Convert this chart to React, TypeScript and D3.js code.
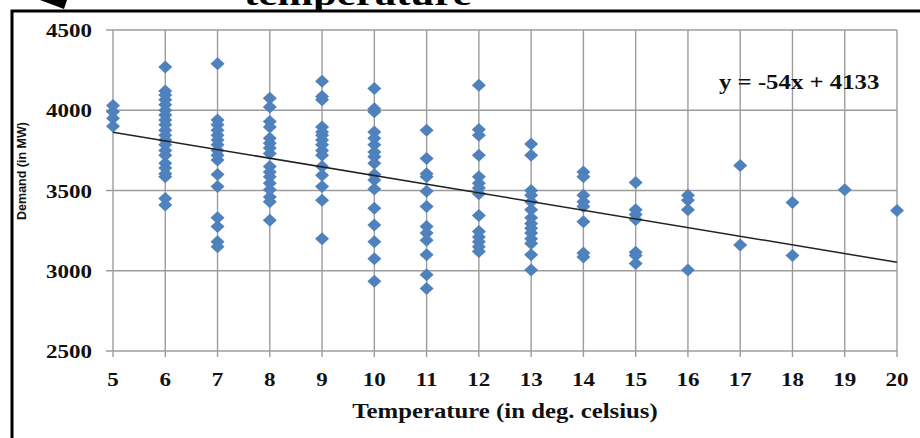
import React, { useEffect, useRef } from 'react';
import * as d3 from 'd3';

// temperature categories (deg C) and demand readings (MW) at each one
const temps = [5, 6, 7, 8, 9, 10, 11, 12, 13, 14, 15, 16, 17, 18, 19, 20];
const demandAt5 = [4030, 3990, 3950, 3900];
const demandAt6 = [4270, 4120, 4095, 4065, 4035, 4000, 3970, 3940, 3910, 3875, 3845, 3815, 3785, 3750, 3720, 3670, 3640, 3605, 3585, 3450, 3410];
const demandAt7 = [4290, 3940, 3910, 3875, 3845, 3815, 3785, 3750, 3720, 3690, 3600, 3525, 3330, 3275, 3180, 3150];
const demandAt8 = [4075, 4020, 3930, 3895, 3825, 3795, 3765, 3730, 3650, 3615, 3585, 3545, 3505, 3460, 3430, 3315];
const demandAt9 = [4180, 4085, 4065, 3895, 3865, 3845, 3815, 3785, 3750, 3720, 3650, 3595, 3525, 3440, 3200];
const demandAt10 = [4135, 4010, 3990, 3865, 3825, 3785, 3740, 3710, 3670, 3600, 3565, 3510, 3390, 3285, 3180, 3075, 2935];
const demandAt11 = [3875, 3700, 3605, 3585, 3495, 3400, 3275, 3235, 3190, 3100, 2975, 2890];
const demandAt12 = [4155, 3880, 3845, 3720, 3585, 3545, 3515, 3480, 3345, 3245, 3210, 3180, 3150, 3120];
const demandAt13 = [3790, 3720, 3500, 3470, 3430, 3380, 3330, 3295, 3265, 3235, 3200, 3170, 3100, 3005];
const demandAt14 = [3615, 3585, 3470, 3430, 3400, 3305, 3110, 3085];
const demandAt15 = [3550, 3380, 3350, 3320, 3115, 3095, 3045];
const demandAt16 = [3470, 3440, 3380, 3005];
const demandAt17 = [3655, 3160];
const demandAt18 = [3425, 3095];
const demandAt19 = [3505];
const demandAt20 = [3375];
const demandByTemp = [
  demandAt5, demandAt6, demandAt7, demandAt8, demandAt9, demandAt10, demandAt11, demandAt12,
  demandAt13, demandAt14, demandAt15, demandAt16, demandAt17, demandAt18, demandAt19, demandAt20,
];
const yTicks = [2500, 3000, 3500, 4000, 4500];

// linear trend shown on the chart
const trendSlope = -54;
const trendIntercept = 4133;
const trendRange = [5, 20];
const equationLabel = 'y = -54x + 4133';

const xTitle = 'Temperature (in deg. celsius)';
const yTitle = 'Demand (in MW)';
const cutTitle = 'temperature';

const App = () => {
  const svgRef = useRef(null);

  useEffect(() => {
    const svg = d3.select(svgRef.current);
    svg.selectAll('*').remove();

    const left = 113, right = 897, top = 30, bottom = 351;
    const serif = '"Liberation Serif", "Times New Roman", serif';
    const stretch = 1.18;

    const x = d3.scaleLinear().domain([5, 20]).range([left, right]);
    const y = d3.scaleLinear().domain([2500, 4500]).range([bottom, top]);

    const points = temps.flatMap((t, i) => demandByTemp[i].map(v => ({ t, v })));

    // cut-off title and arrow above the frame
    svg.append('text')
      .attr('transform', `translate(244,5) scale(1.26,1)`)
      .style('font-family', serif)
      .style('font-weight', 'bold')
      .style('font-size', '34px')
      .text(cutTitle);

    svg.append('path')
      .attr('d', 'M40,0 L67,0 L64,9 Z')
      .attr('fill', '#000');

    // frame
    svg.append('path')
      .attr('d', 'M12,438 L12,11 L920,11')
      .attr('fill', 'none')
      .attr('stroke', '#000')
      .attr('stroke-width', 3);

    // grid
    const grid = svg.append('g').attr('stroke', '#9c9c9c').attr('stroke-width', 1.4);
    grid.selectAll('line.h')
      .data(yTicks)
      .join('line')
      .attr('class', 'h')
      .attr('x1', left - 7)
      .attr('x2', right)
      .attr('y1', d => y(d))
      .attr('y2', d => y(d));
    grid.selectAll('line.v')
      .data(temps)
      .join('line')
      .attr('class', 'v')
      .attr('x1', d => x(d))
      .attr('x2', d => x(d))
      .attr('y1', top)
      .attr('y2', bottom + 6);

    // tick labels
    svg.append('g')
      .selectAll('text')
      .data(yTicks)
      .join('text')
      .attr('transform', d => `translate(92,${y(d) + 7}) scale(${stretch},1)`)
      .attr('text-anchor', 'end')
      .style('font-family', serif)
      .style('font-weight', 'bold')
      .style('font-size', '19.5px')
      .style('fill', '#111')
      .text(d => d);

    svg.append('g')
      .selectAll('text')
      .data(temps)
      .join('text')
      .attr('transform', d => `translate(${x(d)},386) scale(${stretch},1)`)
      .attr('text-anchor', 'middle')
      .style('font-family', serif)
      .style('font-weight', 'bold')
      .style('font-size', '19.5px')
      .style('fill', '#111')
      .text(d => d);

    // axis titles
    svg.append('text')
      .attr('transform', `translate(${(left + right) / 2},418) scale(1.18,1)`)
      .attr('text-anchor', 'middle')
      .style('font-family', serif)
      .style('font-weight', 'bold')
      .style('font-size', '21px')
      .style('fill', '#111')
      .text(xTitle);

    svg.append('text')
      .attr('transform', 'translate(26,171) rotate(-90)')
      .attr('text-anchor', 'middle')
      .style('font-family', '"Liberation Sans", Arial, sans-serif')
      .style('font-weight', 'bold')
      .style('font-size', '12.5px')
      .style('fill', '#111')
      .text(yTitle);

    // points
    const diamond = 'M0,-6.5L7,0L0,6.5L-7,0Z';
    svg.append('g')
      .selectAll('path')
      .data(points)
      .join('path')
      .attr('d', diamond)
      .attr('transform', d => `translate(${x(d.t)},${y(d.v)})`)
      .attr('fill', '#4F81BD');

    // trend line
    const line = d3.line()
      .x(d => x(d))
      .y(d => y(trendSlope * d + trendIntercept));
    svg.append('path')
      .datum(trendRange)
      .attr('d', line)
      .attr('fill', 'none')
      .attr('stroke', '#222')
      .attr('stroke-width', 1.5);

    svg.append('text')
      .attr('transform', `translate(719,89) scale(1.18,1)`)
      .style('font-family', serif)
      .style('font-weight', 'bold')
      .style('font-size', '21px')
      .style('fill', '#111')
      .text(equationLabel);
  }, []);

  return (
    <svg
      ref={svgRef}
      width={920}
      height={438}
      style={{ position: 'absolute', left: 0, top: 0, background: '#fff' }}
    ></svg>
  );
};

export default App;
